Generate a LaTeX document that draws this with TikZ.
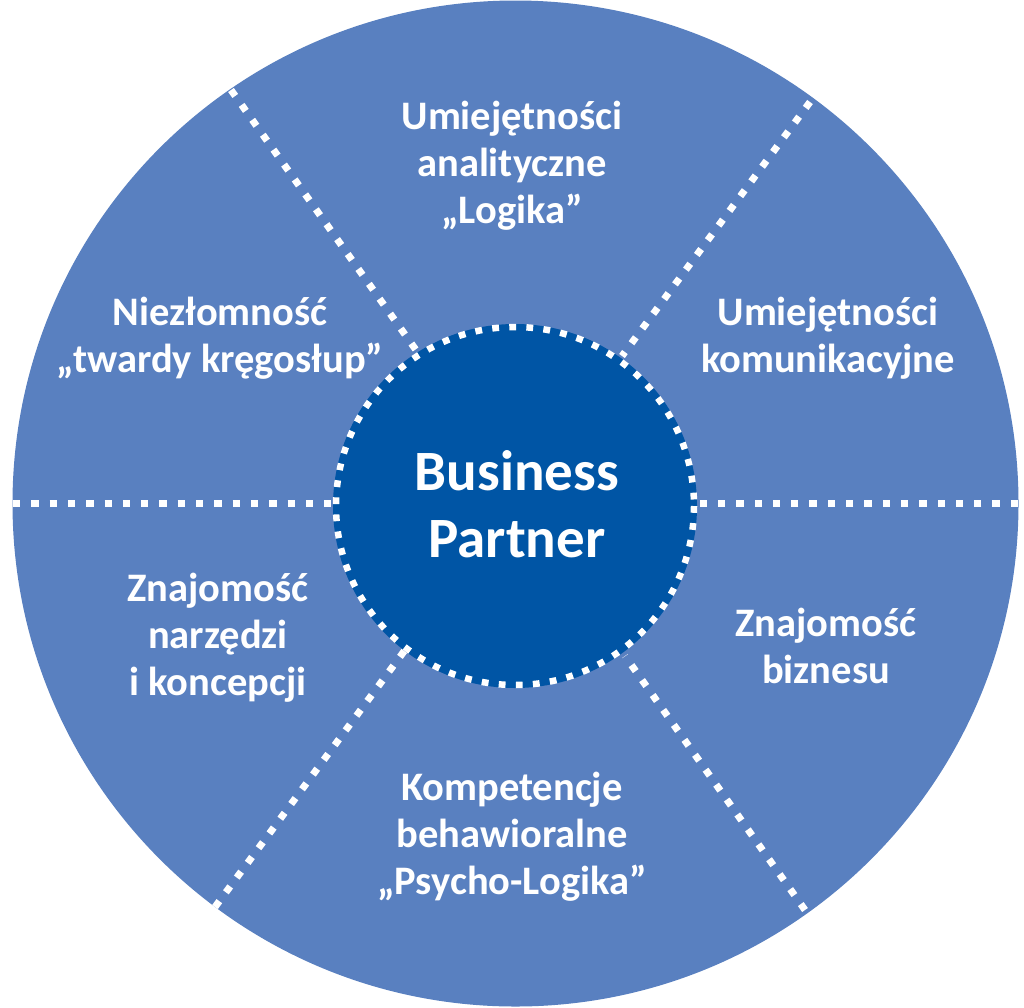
\documentclass[tikz,border=0pt]{standalone}
\usepackage{fontspec}
\setmainfont{Carlito}
\definecolor{outerblue}{HTML}{5980C0}
\definecolor{innerblue}{HTML}{0055A5}
\tikzset{
  sep/.style={white, line width=7pt, dash pattern=on 7.3pt off 11pt, line cap=butt},
  ring/.style={white, line width=6.5pt, dash pattern=on 6.8pt off 10.3pt, line cap=butt},
  lbl/.style={text=white, align=center, font=\bfseries\fontsize{40.5}{47}\selectfont, inner sep=0pt},
  big/.style={text=white, align=center, font=\bfseries\fontsize{57}{67}\selectfont, inner sep=0pt}
}
\begin{document}
\begin{tikzpicture}[x=1pt,y=-1pt]
\useasboundingbox (0,0) rectangle (1024,1007);
% outer disc
\fill[outerblue] (515.5,503.5) circle (503);
% separators
\draw[sep] (13,503) -- (333,503);
\draw[sep] (1018,503) -- (697,503);
\draw[sep] (231,90) -- (416,350);
\draw[sep] (810,102) -- (622,356);
\draw[sep] (805,910) -- (625,656);
\draw[sep] (215,907) -- (405,650);
% inner disc
\fill[innerblue] (515,506) circle (182);
\draw[ring] (515,506) circle (179);
% labels
\node[big] (bp) at (517,504) {Business\\Partner};
\node[lbl] (t) at (512,166) {Umiejętności\\analityczne\\„Logika”};
\node[lbl] (ur) at (828,338) {Umiejętności\\komunikacyjne};
\node[lbl] (ul) at (220,338) {Niezłomność\\„twardy kręgosłup”};
\node[lbl] (l) at (218,638) {Znajomość\\narzędzi\\i koncepcji};
\node[lbl] (r) at (826,646) {Znajomość\\biznesu};
\node[lbl] (b) at (512,837) {Kompetencje\\behawioralne\\„Psycho-Logika”};
\end{tikzpicture}
\end{document}
